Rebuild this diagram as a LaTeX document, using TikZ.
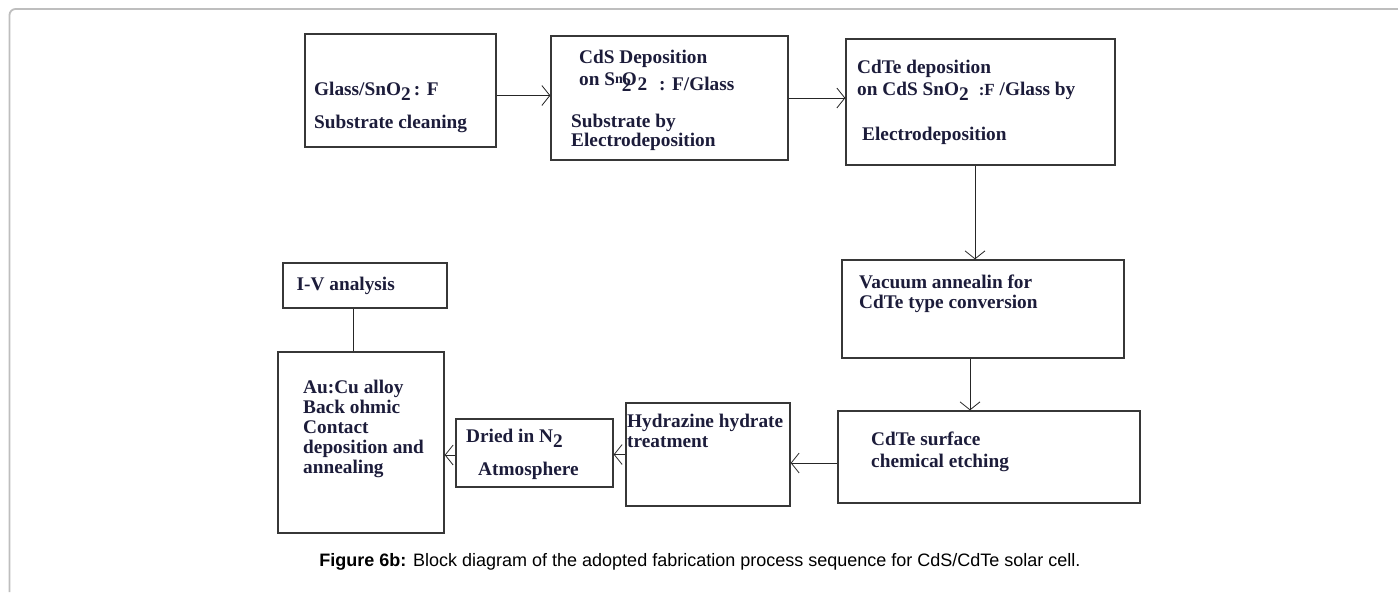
\documentclass[tikz,border=0pt]{standalone}
\usepackage{fontspec}
\setmainfont{Liberation Serif}
\newfontfamily\capfont{Liberation Sans}
\usetikzlibrary{arrows.meta}
\definecolor{txt}{RGB}{28,28,58}
\definecolor{boxline}{RGB}{55,55,55}
\definecolor{framegray}{RGB}{190,190,190}
\tikzset{
  procbox/.style={draw=boxline, line width=1.3pt, inner sep=0pt, rectangle},
  lbl/.style={anchor=base west, inner sep=0pt, text=txt, font=\fontsize{19.3}{21}\selectfont\bfseries},
  arr/.style={draw=black!85, line width=0.9pt, -{Straight Barb[length=8pt,width=20pt,line width=0.8pt]}},
  link/.style={draw=black!85, line width=0.9pt},
  frameline/.style={draw=framegray, line width=1.8pt, rounded corners=6pt}
}
\begin{document}
\begin{tikzpicture}[x=1pt,y=-1pt]
\useasboundingbox (0,0) rectangle (1398,592);
\draw[frameline] (9.5,592) -- (9.5,9) -- (1398,9);

% boxes
\node[procbox, minimum width=191pt, minimum height=113pt] (b1) at (400.5,90.5) {};
\node[procbox, minimum width=237pt, minimum height=124pt] (b2) at (669.5,98) {};
\node[procbox, minimum width=269pt, minimum height=126pt] (b3) at (980.5,102) {};
\node[procbox, minimum width=282pt, minimum height=98pt] (b4) at (983,309) {};
\node[procbox, minimum width=302pt, minimum height=92pt] (b5) at (989,457) {};
\node[procbox, minimum width=164pt, minimum height=103pt] (b6) at (708,454.5) {};
\node[procbox, minimum width=157pt, minimum height=68pt] (b7) at (534.5,453) {};
\node[procbox, minimum width=166pt, minimum height=181pt] (b8) at (361,442.5) {};
\node[procbox, minimum width=164pt, minimum height=45pt] (b9) at (365,285.5) {};

% texts
\node[lbl] (t1a) at (314,95) {Glass/SnO\raisebox{-5pt}{2}\,: F};
\node[lbl] (t1b) at (314,128) {Substrate cleaning};

\node[lbl] (t2a) at (579,63) {CdS Deposition};
\node[lbl] (t2b) at (579,85) {on S{\fontsize{14}{14}\selectfont\raisebox{2pt}{n}}\kern-1pt O\kern-15pt\raisebox{-6pt}{2}\kern6pt\raisebox{-5pt}{2\hspace{12pt}: F/Glass}};
\node[lbl] (t2c) at (571,127) {Substrate by};
\node[lbl] (t2d) at (571,146) {Electrodeposition};

\node[lbl] (t3a) at (857,73) {CdTe deposition};
\node[lbl] (t3b) at (857,95) {on CdS SnO\raisebox{-5pt}{2}\hspace{10pt}{\fontsize{17}{17}\selectfont :F} /Glass by};
\node[lbl] (t3c) at (862,140) {Electrodeposition};

\node[lbl] (t4a) at (859,288) {Vacuum annealin for};
\node[lbl] (t4b) at (859,308) {CdTe type conversion};

\node[lbl] (t5a) at (871,445) {CdTe surface};
\node[lbl] (t5b) at (871,467) {chemical etching};

\node[lbl] (t6a) at (627,427) {Hydrazine hydrate};
\node[lbl] (t6b) at (627,447) {treatment};

\node[lbl] (t7a) at (466,442) {Dried in N\raisebox{-5pt}{2}};
\node[lbl] (t7b) at (478,475) {Atmosphere};

\node[lbl] (t8a) at (303,393) {Au:Cu alloy};
\node[lbl] (t8b) at (303,413) {Back ohmic};
\node[lbl] (t8c) at (303,433) {Contact};
\node[lbl] (t8d) at (303,453) {deposition and};
\node[lbl] (t8e) at (303,473) {annealing};

\node[lbl] (t9) at (296.5,290) {I-V analysis};

% connectors
\draw[arr] ([yshift=-5pt]b1.east) -- ([yshift=-5pt]b1.east -| b2.west);
\draw[arr] (b2.east) -- (b2.east -| b3.west);
\draw[arr] ([xshift=-5.5pt]b3.south) -- ([xshift=-5.5pt]b3.south |- b4.north);
\draw[arr] ([xshift=-13pt]b4.south) -- ([xshift=-13pt]b4.south |- b5.north);
\draw[arr] ([yshift=-6pt]b5.west) -- ([yshift=-6pt]b5.west -| b6.east);
\draw[arr] (b6.west) -- (b6.west -| b7.east);
\draw[arr] ([yshift=-2pt]b7.west) -- ([yshift=-2pt]b7.west -| b8.east);
\draw[link] ([xshift=-12pt]b9.south) -- ([xshift=-12pt]b9.south |- b8.north);

% caption
\node[anchor=base, inner sep=0pt, font=\capfont\fontsize{18}{20}\selectfont] (cap) at (700,566)
  {\textbf{Figure 6b:} Block diagram of the adopted fabrication process sequence for CdS/CdTe solar cell.};
\end{tikzpicture}
\end{document}
